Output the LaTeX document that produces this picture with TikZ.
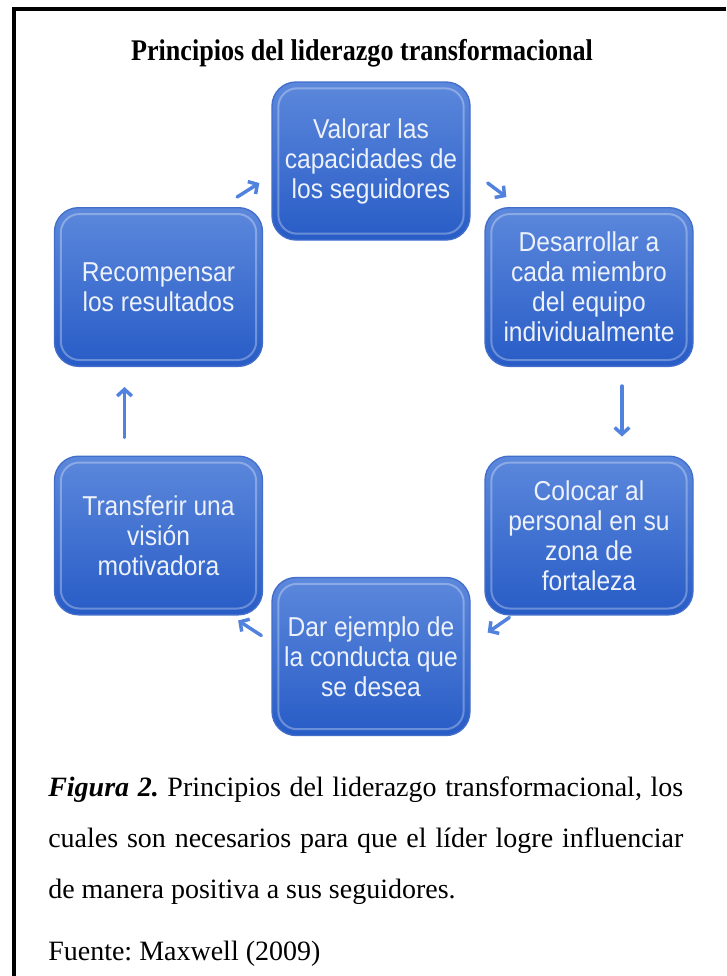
\documentclass[tikz,border=0pt]{standalone}
\usepackage{fontspec}
\setmainfont{Liberation Serif}
\newfontfamily\titlefont{Liberation Serif}[FakeStretch=0.87]
\newfontfamily\boxfont{Liberation Sans}[FakeStretch=0.9]
\usetikzlibrary{arrows.meta}
\definecolor{boxtop}{RGB}{92,136,220}
\definecolor{boxbot}{RGB}{40,92,198}
\definecolor{boxline}{RGB}{66,110,202}
\definecolor{arrowblue}{RGB}{80,130,222}
\definecolor{boxtext}{RGB}{236,241,250}
\frenchspacing

\begin{document}
\begin{tikzpicture}[x=0.75pt,y=-0.75pt,
    principio/.style={rounded corners=18pt, top color=boxtop, bottom color=boxbot,
        draw=boxline, line width=1pt, text=boxtext, align=center, inner sep=0pt,
        font=\boxfont\fontsize{20.5}{22.5}\selectfont},
    ancho/.style={principio, minimum width=156pt, minimum height=119pt},
    estrecho/.style={principio, minimum width=148.5pt, minimum height=118.5pt},
    flecha/.style={-{Straight Barb[length=5pt,width=11pt]}, draw=arrowblue,
        line width=2.6pt, line cap=round}]
    \useasboundingbox (0,0) rectangle (726,976);
    \draw[line width=3pt] (726,9) -- (13.5,9) -- (13.5,976);

    \node[font=\titlefont\bfseries\fontsize{22.5}{26}\selectfont, anchor=base] (titulo) at (362,60)
        {Principios del liderazgo transformacional};

    \node[estrecho] (valorar) at (371,161) {Valorar las\\capacidades de\\los seguidores};
    \node[ancho] (desarrollar) at (589,287) {Desarrollar a\\cada miembro\\del equipo\\individualmente};
    \node[ancho] (colocar) at (589,535.5) {Colocar al\\personal en su\\zona de\\fortaleza};
    \node[estrecho] (ejemplo) at (371,656.5) {Dar ejemplo de\\la conducta que\\se desea};
    \node[ancho] (transferir) at (158.5,535.5) {Transferir una\\visión\\motivadora};
    \node[ancho] (recompensar) at (158.5,287) {Recompensar\\los resultados};

    % brillo interior de las cajas
    \foreach \n in {valorar,desarrollar,colocar,ejemplo,transferir,recompensar}
        \draw[white, opacity=0.3, line width=1.5pt, rounded corners=14pt]
            ([shift={(7,7)}]\n.north west) rectangle ([shift={(-7,-7)}]\n.south east);

    \draw[flecha] ([shift={(-26,-10)}]recompensar.north east) -- ([shift={(-12,22)}]valorar.west);
    \draw[flecha] ([shift={(17,22)}]valorar.east) -- ([shift={(22,-10)}]desarrollar.north west);
    \draw[flecha] ([shift={(33,19)}]desarrollar.south) -- ([shift={(33,-19)}]colocar.north);
    \draw[flecha] ([shift={(25,2)}]colocar.south west) -- ([shift={(17,-24)}]ejemplo.east);
    \draw[flecha] ([shift={(-10,-21)}]ejemplo.west) -- ([shift={(-25,5)}]transferir.south east);
    \draw[flecha] ([shift={(-34,-18)}]transferir.north) -- ([shift={(-34,20)}]recompensar.south);

    \node[anchor=north west, inner sep=0pt, text width=476.25pt, align=justify,
        font=\fontsize{21}{38}\selectfont] (figura) at (48,777)
        {\textbf{\textit{Figura 2.}} Principios del liderazgo transformacional, los\linebreak
        cuales son necesarios para que el líder logre influenciar\linebreak
        de manera positiva a sus seguidores.};
    \node[anchor=base west, inner sep=0pt, font=\fontsize{21}{25}\selectfont] (fuente)
        at (48,960) {Fuente: Maxwell (2009)};
\end{tikzpicture}
\end{document}
